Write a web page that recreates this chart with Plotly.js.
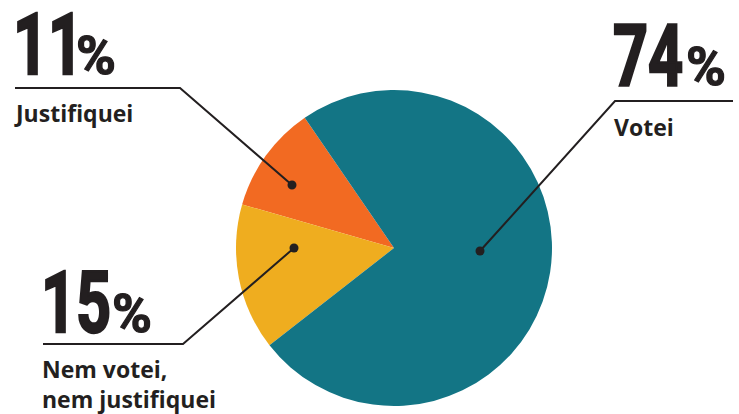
<!DOCTYPE html>
<html>
<head>
<meta charset="utf-8">
<script src="https://cdn.plot.ly/plotly-3.0.1.min.js"></script>
<style>html,body{margin:0;padding:0;background:#fff;}#chart{width:739px;height:414px;}</style>
</head>
<body>
<div id="chart"></div>
<script>
// Data
const labels = ["Justifiquei", "Nem votei, nem justifiquei", "Votei"];
const values = [11, 15, 74];
const colors = ["#F26A22", "#EFAD1F", "#137585"];
const pctText = ["11", "15", "74"];
const labelText = ["Justifiquei", "Nem votei,<br>nem justifiquei", "Votei"];

const W = 739, H = 414;
const px = x => x / W;
const py = y => 1 - y / H;

const cx = 394, cy = 248, r = 158;
const ink = "#231F20";
const numFont = {family: "Roboto, sans-serif", size: 85, color: ink, weight: 700};
const pctFont = {family: "Roboto, sans-serif", size: 54, color: ink, weight: 700};
const lblFont = {family: "Open Sans, Noto Sans, sans-serif", size: 23, color: ink, weight: 700};
const DESC = 0.244; // Roboto descent (em)
const NUM_SCALE = 0.72; // horizontal condensing of the big numbers
const PCT_SCALE = 1.0;

const callouts = [
  {nx: 12, px: 75, base: 75, ly: 88, lx0: 15, lx1: 180, dot: [292, 185], lab: 113},
  {nx: 40, px: 111, base: 333, ly: 344, lx0: 43, lx1: 183, dot: [294, 248], lab: 384},
  {nx: 612, px: 685, base: 86, ly: 101, lx0: 733, lx1: 615, dot: [480, 251], lab: 127}
];

const annotations = [];
const shapes = [];
callouts.forEach((c, i) => {
  annotations.push({
    xref: "paper", yref: "paper", x: px(c.nx), y: py(c.base + DESC * numFont.size),
    xanchor: "left", yanchor: "bottom", showarrow: false, borderpad: 0,
    text: pctText[i], font: numFont, name: "num"
  });
  annotations.push({
    xref: "paper", yref: "paper", x: px(c.px), y: py(c.base + DESC * pctFont.size),
    xanchor: "left", yanchor: "bottom", showarrow: false, borderpad: 0,
    text: "%", font: pctFont, name: "pct"
  });
  annotations.push({
    xref: "paper", yref: "paper", x: px(Math.min(c.lx0, c.lx1) - 2), y: py(c.lab),
    xanchor: "left", yanchor: "middle", align: "left", showarrow: false, borderpad: 0,
    text: labelText[i], font: lblFont
  });
  shapes.push({
    type: "path", xref: "paper", yref: "paper",
    path: `M ${px(c.lx0)} ${py(c.ly)} L ${px(c.lx1)} ${py(c.ly)} L ${px(c.dot[0])} ${py(c.dot[1])}`,
    line: {color: ink, width: 2}
  });
  shapes.push({
    type: "circle", xref: "paper", yref: "paper",
    x0: px(c.dot[0] - 4.5), x1: px(c.dot[0] + 4.5),
    y0: py(c.dot[1] + 4.5), y1: py(c.dot[1] - 4.5),
    fillcolor: ink, line: {width: 0}
  });
});

const data = [{
  type: "pie",
  labels: labels,
  values: values,
  sort: false,
  direction: "counterclockwise",
  rotation: -74,
  marker: {colors: colors, line: {width: 0}},
  textinfo: "none",
  hoverinfo: "label+percent",
  domain: {x: [px(cx - r), px(cx + r)], y: [py(cy + r), py(cy - r)]}
}];

const layout = {
  width: W, height: H,
  margin: {l: 0, r: 0, t: 0, b: 0},
  paper_bgcolor: "#ffffff",
  showlegend: false,
  annotations: annotations,
  shapes: shapes
};

Plotly.newPlot("chart", data, layout, {displayModeBar: false, staticPlot: true}).then(gd => {
  // condense and embolden the big numbers (no condensed heavy font is installed)
  gd.querySelectorAll("g.annotation").forEach(g => {
    const idx = +g.getAttribute("data-index");
    const a = layout.annotations[idx];
    if (!a || (a.name !== "num" && a.name !== "pct")) return;
    const s = a.name === "num" ? NUM_SCALE : PCT_SCALE;
    const t = g.querySelector("text.annotation-text");
    if (!t) return;
    const bb = t.getBBox();
    t.setAttribute("transform", `translate(${bb.x},0) scale(${s},1) translate(${-bb.x},0)`);
    t.style.stroke = ink;
    t.style.strokeWidth = a.name === "num" ? "2.5px" : "1.2px";
    t.style.strokeLinejoin = "miter";
  });
});
</script>
</body>
</html>
